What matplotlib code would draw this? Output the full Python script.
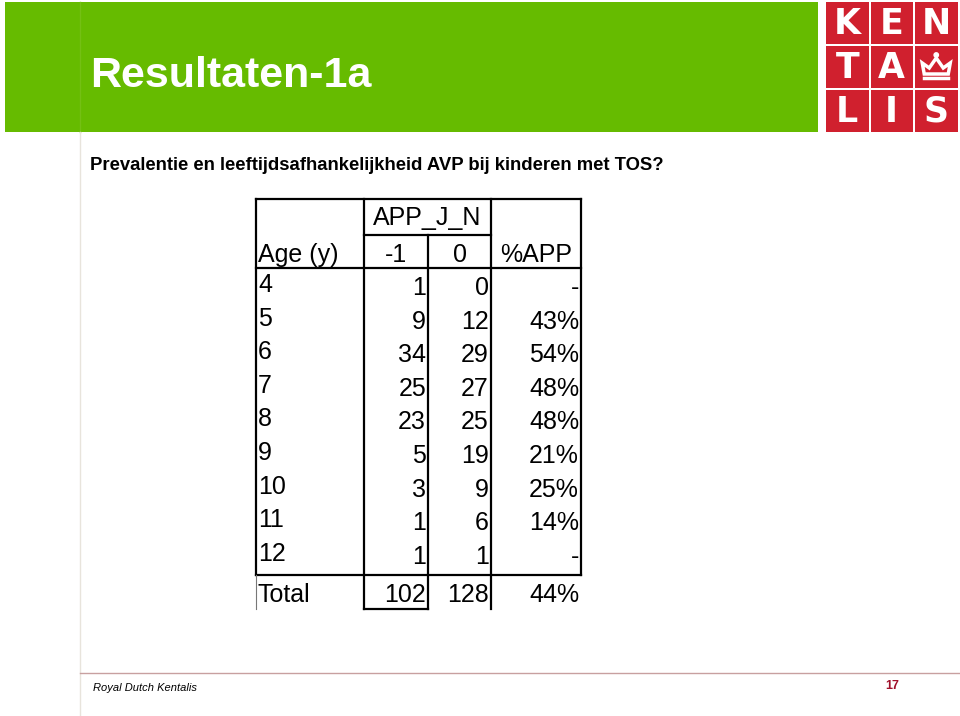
import matplotlib.pyplot as plt
from matplotlib.patches import Rectangle, Polygon

plt.rcParams['font.family'] = ['Liberation Sans', 'DejaVu Sans']

# Slide texts
TITLE = "Resultaten-1a"
SUBTITLE = "Prevalentie en leeftijdsafhankelijkheid AVP bij kinderen met TOS?"
FOOTER = "Royal Dutch Kentalis"
PAGE = "17"

# Table data
group_header = "APP_J_N"
col_headers = ["Age (y)", "-1", "0", "%APP"]
ages = ["4", "5", "6", "7", "8", "9", "10", "11", "12"]
app_neg1 = [1, 9, 34, 25, 23, 5, 3, 1, 1]
app_zero = [0, 12, 29, 27, 25, 19, 9, 6, 1]
pct_app = ["-", "43%", "54%", "48%", "48%", "21%", "25%", "14%", "-"]
total_label = "Total"
total_neg1 = 102
total_zero = 128
total_pct = "44%"

logo_letters = [["K", "E", "N"], ["T", "A", None], ["L", "I", "S"]]

GREEN = "#66bb00"
RED = "#d0202e"

fig = plt.figure(figsize=(9.6, 7.16), dpi=100)
ax = fig.add_axes([0, 0, 1, 1])
ax.set_xlim(0, 960)
ax.set_ylim(716, 0)
ax.axis("off")

# banner
ax.add_patch(Rectangle((5, 2), 813, 130, color=GREEN, lw=0))
ax.plot([80, 80], [2, 132], color="#74c014", lw=1)
ax.text(90, 76, TITLE, color="white", fontsize=31, fontweight="bold",
        va="center", ha="left")
ax.plot([80, 80], [132, 716], color="#e8e4dc", lw=1)

# logo
ax.add_patch(Rectangle((821, 0), 139, 134, color="white", lw=0))
cw, ch = 42.5, 42
xs = [826, 870.5, 915]
ys = [2, 46, 90]
for r in range(3):
    for c in range(3):
        ax.add_patch(Rectangle((xs[c], ys[r]), cw, ch, color=RED, lw=0))
        letter = logo_letters[r][c]
        if letter:
            ax.text(xs[c] + cw / 2, ys[r] + ch / 2 + 1, letter, color="white",
                    fontsize=25, fontweight="bold", ha="center", va="center",
                    family="DejaVu Sans")
# crown
cx, cy = xs[2] + cw / 2, ys[1] + ch / 2
crown = [(cx - 12, cy + 7), (cx - 14, cy - 4), (cx - 7, cy + 1), (cx, cy - 9),
         (cx + 7, cy + 1), (cx + 14, cy - 4), (cx + 12, cy + 7)]
ax.add_patch(Polygon(crown, closed=True, fc="none", ec="white", lw=2.5))
ax.plot([cx - 12, cx + 12], [cy + 11, cy + 11], color="white", lw=2.5)
ax.add_patch(plt.Circle((cx, cy - 12), 2.2, color="white"))

# subtitle
ax.text(90, 166, SUBTITLE, fontsize=13.3, fontweight="bold", va="center", ha="left")

# table lines
lk = dict(color="black", lw=1.6)
xl, x1, x2, x3, xr = 256, 364, 428, 491, 581
y_top, y_mid, y_head, y_tot, y_bot = 199, 235, 268, 575, 609
ax.plot([xl, xr], [y_top, y_top], **lk)
ax.plot([x1, x3], [y_mid, y_mid], **lk)
ax.plot([xl, xr], [y_head, y_head], **lk)
ax.plot([xl, xr], [y_tot, y_tot], **lk)
ax.plot([x1, x2], [y_bot, y_bot], **lk)
ax.plot([xl, xl], [y_top, y_tot], **lk)
ax.plot([xl, xl], [y_tot, y_bot], color="#777777", lw=0.8)
ax.plot([x1, x1], [y_top, y_bot], **lk)
ax.plot([x2, x2], [y_mid, y_bot], **lk)
ax.plot([x3, x3], [y_top, y_bot], **lk)
ax.plot([xr, xr], [y_top, y_tot], **lk)

fs = 18
ax.text((x1 + x3) / 2, 218, group_header, fontsize=fs, ha="center", va="center")
ax.text(xl + 2, 255, col_headers[0], fontsize=fs, ha="left", va="center")
ax.text((x1 + x2) / 2, 255, col_headers[1], fontsize=fs, ha="center", va="center")
ax.text((x2 + x3) / 2, 255, col_headers[2], fontsize=fs, ha="center", va="center")
ax.text((x3 + xr) / 2, 255, col_headers[3], fontsize=fs, ha="center", va="center")

row_y0, row_h = 288, 33.6
for i, age in enumerate(ages):
    y = row_y0 + i * row_h
    ax.text(xl + 2, y - 3, age, fontsize=fs, ha="left", va="center")
    ax.text(x2 - 2, y, str(app_neg1[i]), fontsize=fs, ha="right", va="center")
    ax.text(x3 - 2, y, str(app_zero[i]), fontsize=fs, ha="right", va="center")
    ax.text(xr - 2, y, pct_app[i], fontsize=fs, ha="right", va="center")

yt = 595
ax.text(xl + 2, yt, total_label, fontsize=fs, ha="left", va="center")
ax.text(x2 - 2, yt, str(total_neg1), fontsize=fs, ha="right", va="center")
ax.text(x3 - 2, yt, str(total_zero), fontsize=fs, ha="right", va="center")
ax.text(xr - 2, yt, total_pct, fontsize=fs, ha="right", va="center")

# footer
ax.plot([80, 960], [673, 673], color="#c8a0a0", lw=1)
ax.text(93, 688, FOOTER, fontsize=8, style="italic", ha="left", va="center")
ax.text(892, 686, PAGE, fontsize=9, fontweight="bold", color="#a0102a",
        ha="center", va="center")

fig.savefig("out.png", dpi=100)
